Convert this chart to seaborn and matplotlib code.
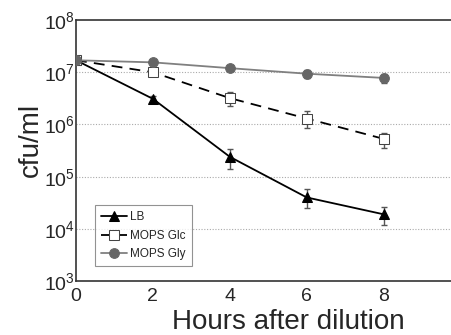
import numpy as np
import pandas as pd
import seaborn as sns
import matplotlib.pyplot as plt

# Time points (hours after dilution)
hours = [0, 2, 4, 6, 8]

# cfu/ml per condition
lb = [1.7e7, 3.1e6, 2.4e5, 4.0e4, 1.9e4]
lb_low = [1.6e7, 2.7e6, 1.4e5, 2.5e4, 1.2e4]
lb_high = [1.8e7, 3.5e6, 3.4e5, 5.7e4, 2.6e4]

glc = [1.7e7, 1.0e7, 3.2e6, 1.3e6, 5.3e5]
glc_low = [1.6e7, 9.5e6, 2.3e6, 8.5e5, 3.6e5]
glc_high = [1.8e7, 1.05e7, 4.2e6, 1.8e6, 6.9e5]

gly = [1.7e7, 1.55e7, 1.2e7, 9.4e6, 7.8e6]
gly_low = [1.6e7, 1.5e7, 1.15e7, 7.8e6, 6.2e6]
gly_high = [1.8e7, 1.6e7, 1.25e7, 1.1e7, 9.2e6]

sns.set_style("white")
plt.rcParams['font.family'] = ['Liberation Sans', 'DejaVu Sans']
plt.rcParams['mathtext.fontset'] = 'custom'
plt.rcParams['mathtext.rm'] = 'Liberation Sans'

fig = plt.figure(figsize=(4.51, 3.35), dpi=100)
ax = fig.add_axes([0.1685, 0.161, 0.8315, 0.779])

series = [
    ('LB', lb, lb_low, lb_high, dict(color='black', marker='^', markersize=7,
                                     markerfacecolor='black', markeredgecolor='black',
                                     linestyle='-', linewidth=1.3)),
    ('MOPS Glc', glc, glc_low, glc_high, dict(color='black', marker='s', markersize=7,
                                              markerfacecolor='white', markeredgecolor='#444444',
                                              linestyle=(0, (6, 4)), linewidth=1.3)),
    ('MOPS Gly', gly, gly_low, gly_high, dict(color='#808080', marker='o', markersize=7,
                                              markerfacecolor='#666666', markeredgecolor='#666666',
                                              linestyle='-', linewidth=1.3)),
]

for name, vals, low, high, style in series:
    v = np.array(vals)
    yerr = [v - np.array(low), np.array(high) - v]
    ax.errorbar(hours, vals, yerr=yerr, fmt='none', ecolor='#555555',
                elinewidth=1, capsize=2.5, capthick=1, zorder=2)
    sns.lineplot(x=hours, y=vals, ax=ax, label=name, zorder=3, **style)

ax.set_yscale('log')
ax.set_ylim(1e3, 1e8)
ax.set_xlim(0, 9.75)
ax.set_xticks([0, 2, 4, 6, 8])
ax.set_yticks([1e3, 1e4, 1e5, 1e6, 1e7, 1e8])
ax.minorticks_off()

for d in [1e4, 1e5, 1e6, 1e7]:
    ax.axhline(d, color='#aaaaaa', linestyle=(0, (1, 1.5)), linewidth=0.8, zorder=1)

ax.tick_params(axis='both', labelsize=14, direction='in', length=3, width=0.8)
ax.tick_params(axis='x', pad=5)
ax.tick_params(axis='y', pad=1)
ax.set_xlabel('Hours after dilution', fontsize=20, va='center')
ax.set_ylabel('cfu/ml', fontsize=20, va='center')
ax.xaxis.set_label_coords(0.565, -0.157, transform=ax.transAxes)
ax.yaxis.set_label_coords(-0.12, 0.54, transform=ax.transAxes)

for side in ['left', 'bottom', 'top']:
    ax.spines[side].set_color('#333333')
    ax.spines[side].set_linewidth(1.2)
ax.spines['right'].set_visible(False)

leg = ax.legend(loc='lower left', bbox_to_anchor=(0.035, 0.035), fontsize=8.5,
                frameon=True, fancybox=False, edgecolor='#777777',
                handlelength=2.2, borderpad=0.5, labelspacing=0.55, handletextpad=0.3)
leg.get_frame().set_linewidth(0.8)

fig.savefig('out.png', dpi=100)
